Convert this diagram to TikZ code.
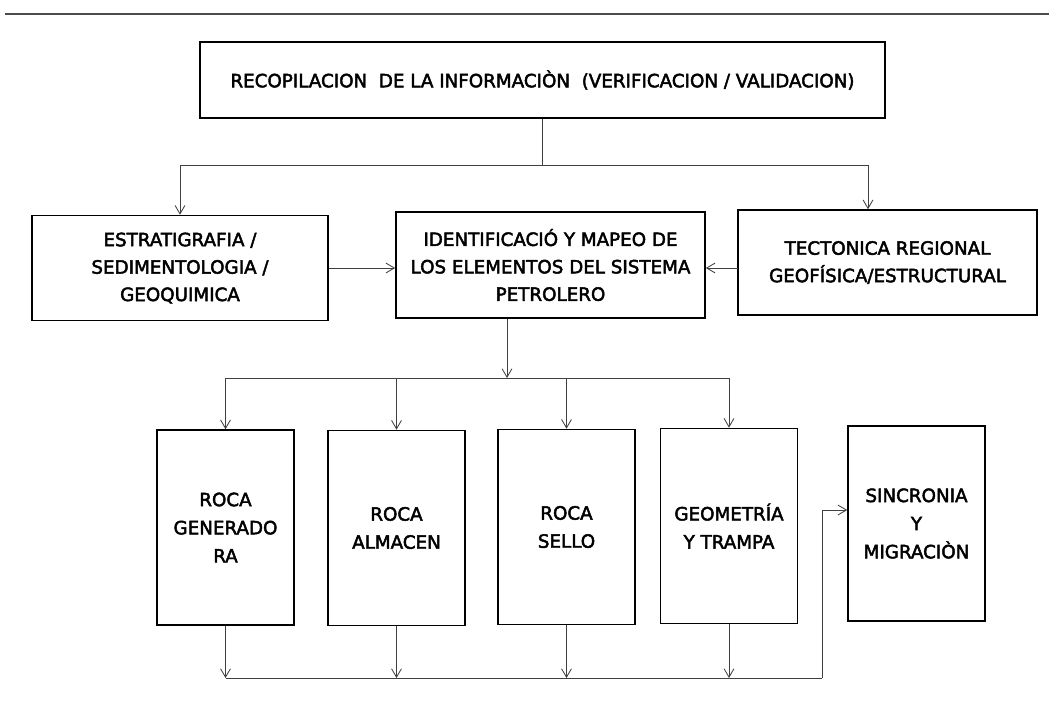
\documentclass[tikz,border=0pt]{standalone}
\usepackage{fontspec}
\setmainfont{DejaVu Sans}
\newfontfamily\boxfont{DejaVu Sans}[FakeBold=2.5]
\usetikzlibrary{arrows.meta,calc}
\begin{document}
\begin{tikzpicture}[x=0.025cm,y=-0.025cm,
 box/.style={draw=black,line width=1.1pt,align=center,inner sep=0pt,font=\boxfont\fontsize{13}{19.5}\selectfont},
 bbox/.style={box,minimum width=3.425cm,minimum height=4.875cm,font=\boxfont\fontsize{13}{20}\selectfont},
 conn/.style={draw=black!75,line width=0.6pt},
 arr/.style={conn,-{Straight Barb[length=6pt,width=7pt]}}]
\useasboundingbox (0,0) rectangle (1049,700);
\draw[black!70,line width=0.8pt] (5,14) -- (1049,14);

\node[box,minimum width=17.125cm,minimum height=1.9cm] (top) at (542.5,80)
  {RECOPILACION\ \ DE LA INFORMACIÒN\ \ (VERIFICACION / VALIDACION)};
\node[box,minimum width=7.4cm,minimum height=2.625cm] (left) at (180,268)
  {ESTRATIGRAFIA /\\ SEDIMENTOLOGIA /\\ GEOQUIMICA};
\node[box,minimum width=7.725cm,minimum height=2.65cm] (mid) at (550.5,265)
  {IDENTIFICACIÓ Y MAPEO DE\\ LOS ELEMENTOS DEL SISTEMA\\ PETROLERO};
\node[box,minimum width=7.475cm,minimum height=2.625cm] (right) at (887.5,262.5)
  {TECTONICA REGIONAL\\ GEOFÍSICA/ESTRUCTURAL};

\node[bbox] (b1) at (225.5,527.5) {ROCA\\ GENERADO\\ RA};
\node[bbox] (b2) at (396.5,528) {ROCA\\ ALMACEN};
\node[bbox] (b3) at (566.5,527) {ROCA\\ SELLO};
\node[bbox] (b4) at (729,526) {GEOMETRÍA\\ Y TRAMPA};
\node[bbox] (b5) at (916.5,523.5) {SINCRONIA\\ Y\\ MIGRACIÒN};

% level 1 bus
\coordinate (bus1) at (542.5,165);
\coordinate (bus1l) at (180,165);
\coordinate (bus1r) at (868,165);
\draw[conn] (top.south) -- (bus1);
\draw[conn] (bus1l) -- (bus1r);
\draw[arr] (bus1l) -- (left.north);
\draw[arr] (bus1r) -- (bus1r |- right.north);

\draw[arr] (left.east) -- (left.east -| mid.west);
\coordinate (rin) at (738,268);
\draw[arr] (rin) -- (rin -| mid.east);

% level 2 bus
\coordinate (bus2) at (507,378);
\coordinate (bus2l) at (225.5,378);
\coordinate (bus2r) at (729,378);
\draw[arr] (mid.south -| bus2) -- (bus2);
\draw[conn] (bus2l) -- (bus2r);
\foreach \b in {b1,b2,b3,b4}{
  \draw[arr] (\b.north |- bus2) -- (\b.north);
}

% level 3 bus
\coordinate (bus3) at (225.5,678);
\coordinate (bus3r) at (822,678);
\coordinate (up) at (822,510);
\foreach \b in {b1,b2,b3,b4}{
  \draw[arr] (\b.south) -- (\b.south |- bus3);
}
\draw[conn] (bus3) -- (bus3r);
\draw[arr] (bus3r) -- (up) -- (up -| b5.west);
\end{tikzpicture}
\end{document}
